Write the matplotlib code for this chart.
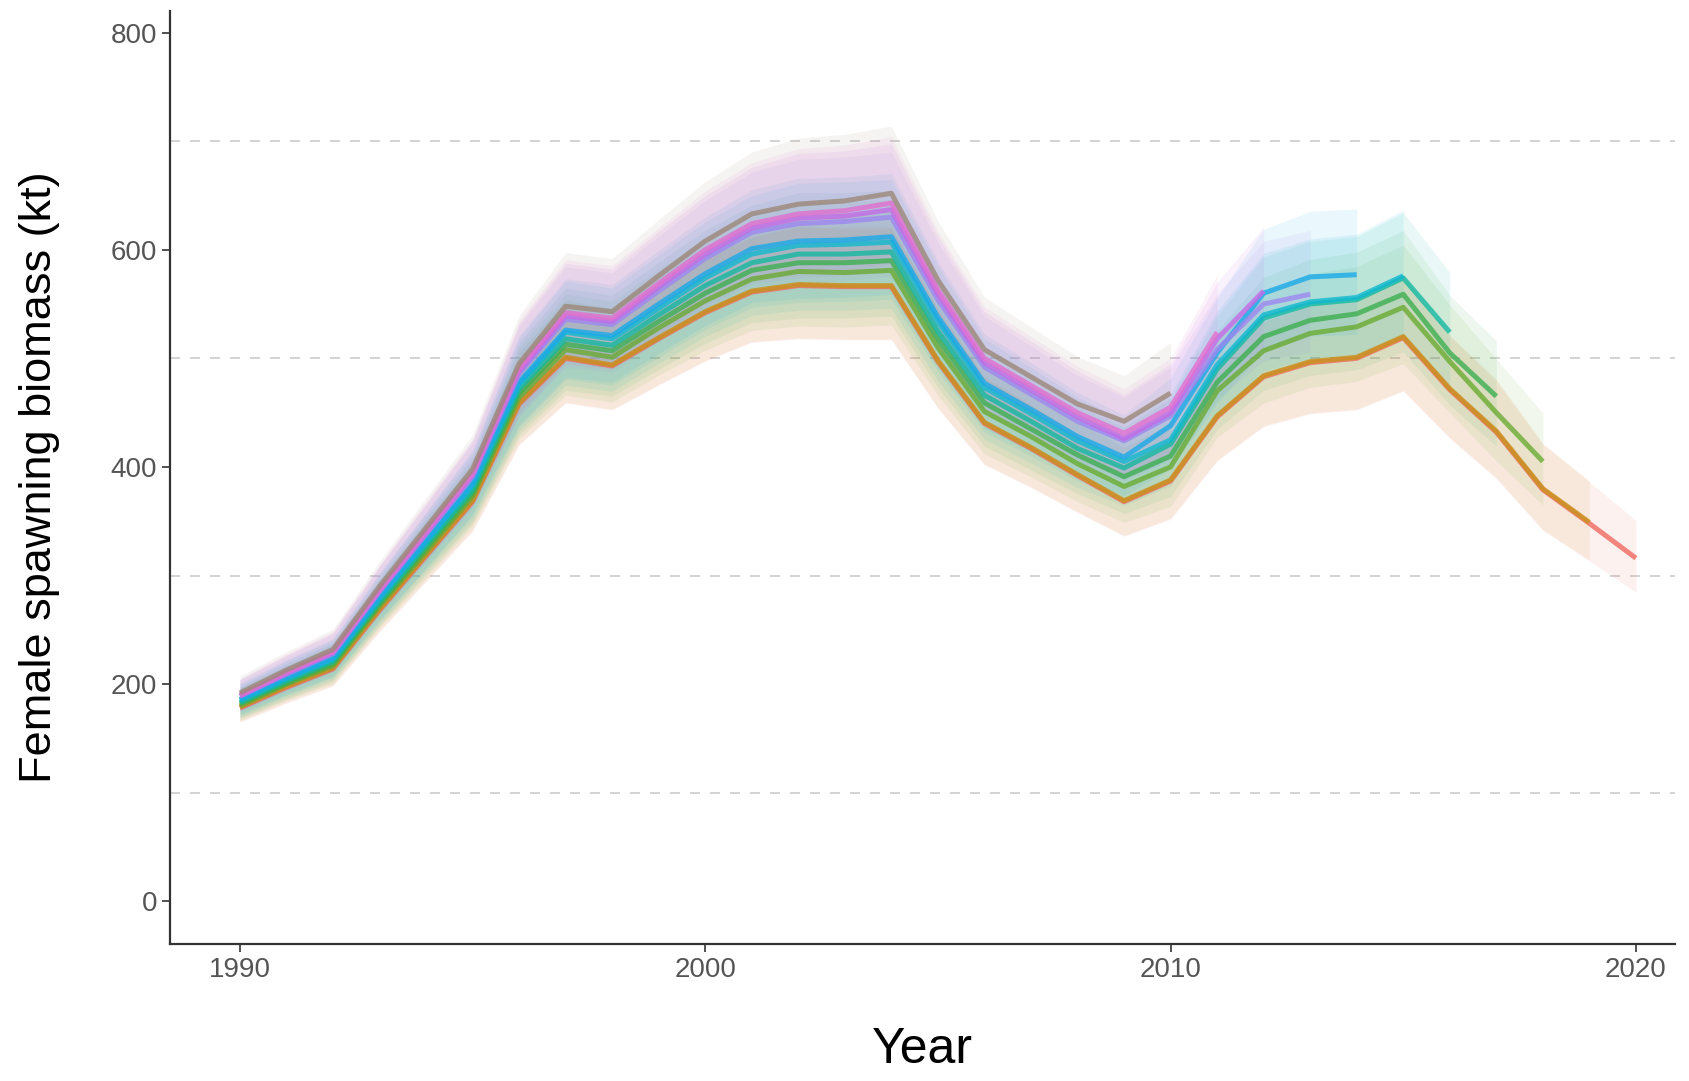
import numpy as np
import matplotlib.pyplot as plt

# retrospective peels: terminal year -> female spawning biomass (kt), from 1990
peel_years = [2020, 2019, 2018, 2017, 2016, 2015, 2014, 2013, 2012, 2011, 2010]

ssb_2020 = [178, 197, 214, 268, 318, 368, 458, 500, 493, 518, 542, 561, 567, 566, 566, 497,
            440, 417, 392, 368, 387, 446, 483, 496, 500, 519, 471, 432, 379, 348, 316]
ssb_2019 = [179, 198, 215, 269, 319, 369, 459, 501, 494, 519, 543, 562, 568, 567, 567, 498,
            441, 418, 393, 369, 388, 447, 484, 497, 501, 520, 472, 433, 380, 349]
ssb_2018 = [180, 200, 217, 272, 322, 373, 464, 508, 501, 528, 553, 573, 580, 579, 581, 510,
            451, 428, 403, 382, 400, 470, 507, 523, 529, 547, 497, 450, 405]
ssb_2017 = [182, 201, 219, 274, 325, 376, 468, 513, 507, 534, 560, 581, 588, 588, 590, 518,
            459, 435, 411, 391, 410, 478, 520, 535, 541, 559, 505, 465]
ssb_2016 = [183, 203, 221, 276, 328, 379, 472, 518, 512, 540, 567, 588, 596, 596, 598, 525,
            466, 442, 417, 399, 421, 490, 537, 550, 554, 574, 524]
ssb_2015 = [185, 205, 223, 279, 331, 383, 476, 524, 518, 546, 574, 596, 604, 605, 607, 534,
            473, 449, 424, 405, 425, 494, 540, 552, 556, 576]
ssb_2014 = [186, 206, 224, 280, 332, 385, 478, 526, 521, 550, 578, 601, 608, 609, 612, 538,
            477, 453, 428, 409, 438, 505, 560, 575, 577]
ssb_2013 = [189, 209, 228, 285, 338, 391, 486, 536, 531, 562, 592, 616, 624, 626, 630, 554,
            492, 467, 442, 424, 447, 508, 550, 559]
ssb_2012 = [189, 210, 229, 286, 339, 393, 488, 539, 534, 566, 596, 620, 629, 631, 637, 559,
            496, 471, 446, 426, 450, 518, 562]
ssb_2011 = [190, 211, 230, 287, 341, 394, 491, 542, 537, 569, 600, 624, 633, 636, 643, 563,
            500, 475, 450, 431, 455, 524]
ssb_2010 = [192, 213, 232, 290, 344, 398, 495, 548, 543, 576, 608, 633, 642, 645, 652, 572,
            508, 483, 458, 442, 468]

# relative half-width of the confidence band, by year 1990-2020
ci_rel = [0.08, 0.08, 0.08, 0.08, 0.08, 0.08, 0.09, 0.09, 0.09, 0.09, 0.09, 0.09, 0.095, 0.095,
          0.095, 0.095, 0.095, 0.095, 0.095, 0.095, 0.10, 0.10, 0.105, 0.105, 0.105, 0.105, 0.105,
          0.11, 0.11, 0.11, 0.11]

peel_colors = ['#EE6A62', '#C8921A', '#6AAB32', '#3DAF50', '#14B8A0', '#10B8D0',
               '#1AA9E8', '#9D87F0', '#C46BE6', '#E36FD0', '#9C8878']

series = [ssb_2020, ssb_2019, ssb_2018, ssb_2017, ssb_2016, ssb_2015,
          ssb_2014, ssb_2013, ssb_2012, ssb_2011, ssb_2010]

fig = plt.figure(figsize=(16.89, 10.81), dpi=100)
ax = fig.add_axes([0.1007, 0.127, 0.8913, 0.863])

for vals, col in zip(series, peel_colors):
    v = np.array(vals, dtype=float)
    yrs = np.arange(1990, 1990 + v.size)
    ci = np.array(ci_rel[:v.size])
    ax.fill_between(yrs, v / (1 + ci), v * (1 + ci), color=col, alpha=0.09, lw=0)

for vals, col in zip(series, peel_colors):
    v = np.array(vals, dtype=float)
    yrs = np.arange(1990, 1990 + v.size)
    ax.plot(yrs, v, color=col, lw=3.6, alpha=0.8, solid_capstyle='butt')

for yv in [100, 300, 500, 700]:
    ax.axhline(yv, color='#CCCCCC', lw=1.2, ls=(0, (6, 6)), zorder=0)

ax.set_xlim(1988.5, 2020.85)
ax.set_ylim(-39, 820)
ax.set_xticks([1990, 2000, 2010, 2020])
ax.set_yticks([0, 200, 400, 600, 800])

for s in ['top', 'right']:
    ax.spines[s].set_visible(False)
for s in ['left', 'bottom']:
    ax.spines[s].set_color('#333333')
    ax.spines[s].set_linewidth(1.6)

ax.tick_params(axis='both', colors='#333333', length=6, width=1.2, labelsize=20,
               labelcolor='#555555')
for lab in ax.get_xticklabels() + ax.get_yticklabels():
    lab.set_family('Liberation Sans')

ax.set_xlabel('Year', fontsize=36, family='Liberation Sans', labelpad=32)
ax.set_ylabel('Female spawning biomass (kt)', fontsize=32.5, family='Liberation Sans',
              labelpad=36)

fig.savefig('out.png', dpi=100)
